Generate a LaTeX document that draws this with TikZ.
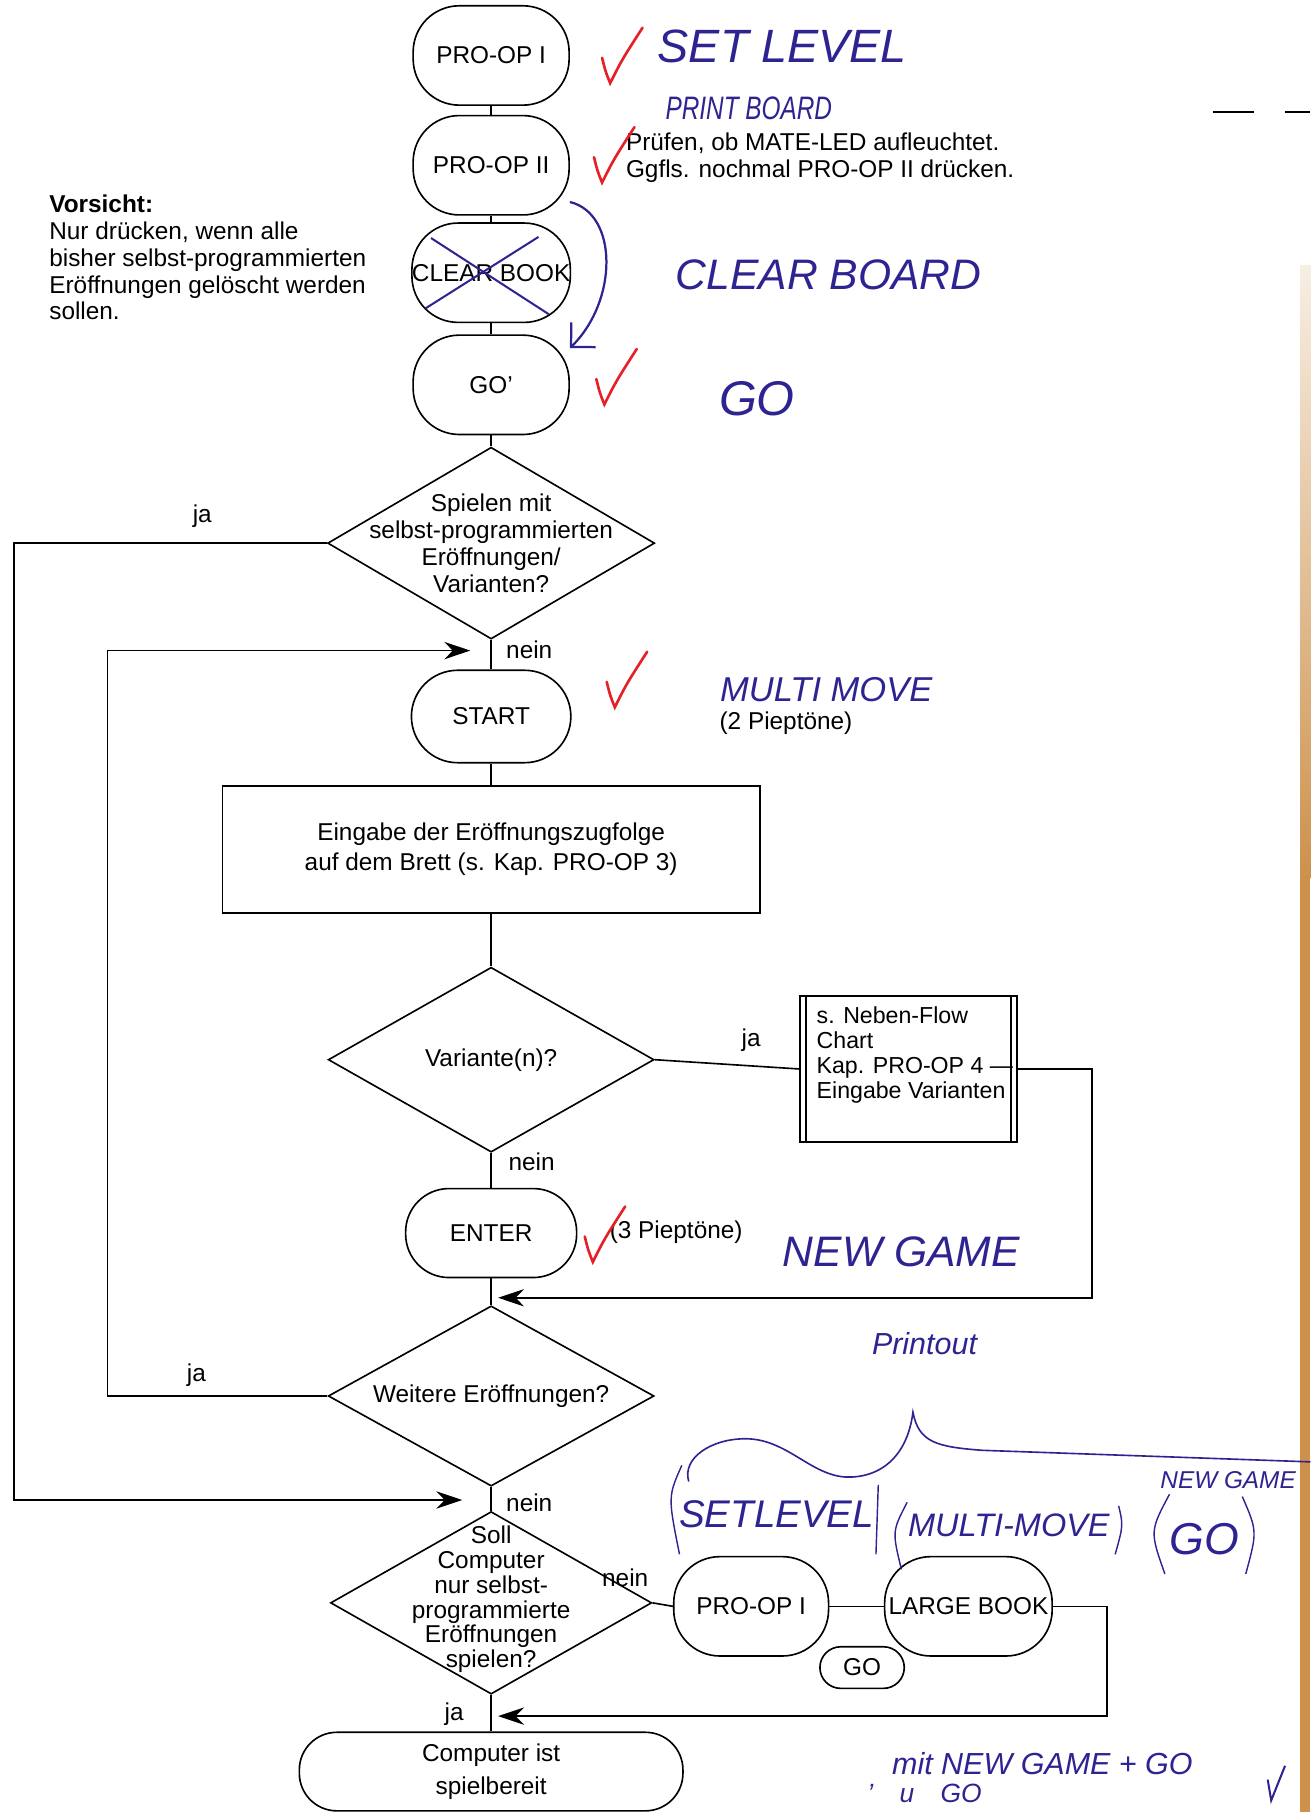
\documentclass[tikz,border=0pt]{standalone}
\usepackage{fontspec}
\setmainfont{Liberation Sans}
\newfontfamily\handfont{Liberation Sans}
\usetikzlibrary{shapes.geometric,arrows.meta}
\definecolor{ink}{RGB}{45,35,145}
\definecolor{redtick}{RGB}{228,32,40}
\definecolor{pageedge}{RGB}{205,145,75}
\newcommand{\haken}[2]{\draw [redtick, line width=1.3pt, line cap=round] (#1-7,#2-22) .. controls (#1-4,#2-10) .. (#1,#2) .. controls (#1+10,#2-20) .. (#1+28,#2-48);}
\begin{document}
\begin{tikzpicture}[x=0.02cm, y=-0.02cm, font=\fontsize{12}{14}\selectfont, line width=0.8pt,
  term/.style={draw, rectangle, rounded corners=0.8cm, minimum width=2.7cm, minimum height=1.72cm, inner sep=1pt},
  frage/.style={draw, diamond, minimum width=5.64cm, minimum height=3.2cm, inner sep=0pt},
  box/.style={draw, rectangle, inner sep=0pt},
  txt/.style={inner sep=0pt, align=center},
  hand/.style={ink, inner sep=0pt, font=\handfont\itshape\fontsize{20}{22}\selectfont},
  arr/.style={-{Stealth[length=0.45cm, width=0.3cm]}}]
\useasboundingbox (0,0) rectangle (1134,1568);

% page edge of the scan
\shade [top color=pageedge!15, bottom color=pageedge] (1125,230) rectangle (1134,760);
\fill [pageedge] (1125,760) rectangle (1134,1568);
\draw [line width=1.2pt] (1050,97)--(1085,97);
\draw [line width=1.2pt] (1112,97)--(1134,97);

% main column
\node[term] (po1) at (425,48) {PRO-OP I};
\node[term] (po2) at (425,143) {PRO-OP II};
\node[term, inner sep=0pt] (cb) at (425,236) {CLEAR BOOK};
\node[term] (go1) at (425,333) {GO’};
\node[frage, minimum width=5.66cm, minimum height=3.32cm] (f1) at (425,470) {};
\node[txt, font=\fontsize{12}{13.2}\selectfont] (f1t) at (f1) {Spielen mit\\selbst-programmierten\\Eröffnungen/\\Varianten?};
\node[term, minimum width=2.76cm, minimum height=1.6cm] (start) at (425,620) {START};
\node[box, minimum width=9.3cm, minimum height=2.2cm, align=center, font=\fontsize{12}{15}\selectfont] (eing) at (425,735) {Eingabe der Eröffnungszugfolge\\auf dem Brett (s. Kap. PRO-OP 3)};
\node[frage] (f2) at (425,917) {};
\node[txt] (f2t) at (f2) {Variante(n)?};
\node[box, minimum width=3.76cm, minimum height=2.52cm] (nb) at (786,925) {};
\node[anchor=west, align=left, inner sep=0pt, font=\fontsize{11.4}{12.4}\selectfont] (nbt) at (706,913) {s. Neben-Flow\\Chart\\Kap. PRO-OP 4 —\\Eingabe Varianten};
\draw ([xshift=0.12cm]nb.north west)--([xshift=0.12cm]nb.south west);
\draw ([xshift=-0.12cm]nb.north east)--([xshift=-0.12cm]nb.south east);
\node[term, minimum width=2.96cm, minimum height=1.54cm, rounded corners=0.75cm] (enter) at (425,1067) {ENTER};
\node[frage, minimum height=3.12cm] (f3) at (425,1208) {};
\node[txt] (f3t) at (f3) {Weitere Eröffnungen?};
\node[frage, minimum width=5.56cm, minimum height=3.16cm] (f4) at (425,1387) {};
\node[txt, font=\fontsize{12}{12.2}\selectfont] (f4t) at (425,1384) {Soll\\Computer\\nur selbst-\\programmierte\\Eröffnungen\\spielen?};
\node[term, minimum width=2.68cm] (po1b) at (650,1390) {PRO-OP I};
\node[term, minimum width=2.9cm, inner sep=0pt] (lb) at (838,1390) {LARGE BOOK};
\node[term, minimum width=1.46cm, minimum height=0.72cm, rounded corners=0.36cm] (go2) at (746,1443) {GO};
\node[term, minimum width=6.64cm, minimum height=1.36cm, rounded corners=0.65cm, align=center, font=\fontsize{12}{16}\selectfont] (ready) at (425,1533) {Computer ist\\spielbereit};

\coordinate (m1) at (425,563);
\coordinate (m2) at (425,1123);
\coordinate (m3) at (425,1298);
\coordinate (m4) at (425,1485);

\draw (po1.south)--(po2.north);
\draw (po2.south)--(cb.north);
\draw (cb.south)--(go1.north);
\draw (go1.south)--(f1.north);
\draw (f1.south)--(start.north);
\draw (start.south)--(eing.north);
\draw (eing.south)--(f2.north);
\draw (f2.east)--(nb.west);
\draw (f2.south)--(enter.north);
\draw (enter.south)--(f3.north);
\draw (f3.south)--(f4.north);
\draw (f4.east)--(po1b.west);
\draw (po1b.east)--(lb.west);
\draw (f4.south)--(ready.north);
\draw [arr, shorten >=0.5cm] (f1.west) -| (12,1298) -- (m3);
\draw [arr, shorten >=0.36cm] (f3.west) -| (93,563) -- (m1);
\draw [arr, shorten >=0.12cm] (nb.east) -| (945,1123) -- (m2);
\draw [arr, shorten >=0.12cm] (lb.east) -| (958,1485) -- (m4);

\node (ja1) at (175,447) {ja};
\node (nein1) at (458,562) {nein};
\node (ja2) at (650,900) {ja};
\node (nein2) at (460,1005) {nein};
\node (ja3) at (170,1190) {ja};
\node (nein3) at (458,1300) {nein};
\node (nein4) at (541,1365) {nein};
\node (ja4) at (393,1483) {ja};

% printed notes
\node[anchor=north west, align=left, inner sep=0pt, font=\fontsize{12}{13.2}\selectfont] (vorsicht) at (42,168) {\textbf{Vorsicht:}\\Nur drücken, wenn alle\\bisher selbst-programmierten\\Eröffnungen gelöscht werden\\sollen.};
\node[anchor=north west, align=left, inner sep=0pt, font=\fontsize{12}{13.2}\selectfont] (pruef) at (541,114) {Prüfen, ob MATE-LED aufleuchtet.\\Ggfls. nochmal PRO-OP II drücken.};
\node[anchor=west, inner sep=0pt] (piep2) at (622,626) {(2 Pieptöne)};
\node[anchor=west, inner sep=0pt] (piep3) at (527,1066) {(3 Pieptöne)};

% pen marks
\haken{528}{72}
\haken{521}{158}
\haken{523}{350}
\haken{532}{612}
\haken{513}{1092}
\draw [ink, line width=1pt] (373,206)--(475,272);
\draw [ink, line width=1pt] (466,205)--(368,267);
\draw [ink, line width=1.1pt, -{Straight Barb[length=0.3cm]}] (po2.-25) .. controls (535,185) and (535,260) .. (go1.25);
\draw [ink, line width=0.8pt] (596,1282) .. controls (590,1262) and (615,1245) .. (645,1245) .. controls (680,1245) and (700,1275) .. (730,1278) .. controls (760,1280) and (785,1262) .. (790,1222) .. controls (795,1248) and (810,1252) .. (850,1255) -- (1134,1265);
\draw [ink, line width=0.7pt] (590,1268) .. controls (578,1295) .. (588,1345);
\draw [ink, line width=0.7pt] (760,1285) -- (758,1345);
\draw [ink, line width=0.7pt] (785,1300) .. controls (772,1325) .. (780,1358);
\draw [ink, line width=0.7pt] (968,1303) .. controls (972,1320) .. (965,1345);
\draw [ink, line width=0.7pt] (1012,1293) .. controls (995,1325) .. (1008,1362);
\draw [ink, line width=0.7pt] (1075,1295) .. controls (1088,1325) .. (1078,1362);
\draw [ink, line width=1pt] (1097,1540) -- (1100,1558) -- (1112,1528);

\node[hand, font=\handfont\itshape\fontsize{23}{23}\selectfont] (h1) at (677,40) {SET LEVEL};
\node[hand, font=\handfont\itshape\fontsize{16}{16}\selectfont] (h2) at (648,94) {\scalebox{0.75}[1]{PRINT BOARD}};
\node[hand, font=\handfont\itshape\fontsize{21}{21}\selectfont] (h3) at (717,238) {CLEAR BOARD};
\node[hand, font=\handfont\itshape\fontsize{24}{24}\selectfont] (h4) at (655,345) {GO};
\node[hand, font=\handfont\itshape\fontsize{17}{17}\selectfont] (h5) at (715,597) {MULTI MOVE};
\node[hand, font=\handfont\itshape\fontsize{21}{21}\selectfont] (h6) at (780,1083) {NEW GAME};
\node[hand, font=\handfont\itshape\fontsize{15}{15}\selectfont] (h7) at (800,1163) {Printout};
\node[hand, font=\handfont\itshape\fontsize{19}{19}\selectfont] (h8) at (672,1310) {SETLEVEL};
\node[hand, font=\handfont\itshape\fontsize{16}{16}\selectfont] (h9) at (873,1320) {MULTI-MOVE};
\node[hand, anchor=east, font=\handfont\itshape\fontsize{12}{12}\selectfont] (h10) at (1122,1281) {NEW GAME};
\node[hand, font=\handfont\itshape\fontsize{22}{22}\selectfont] (h11) at (1042,1332) {GO};
\node[hand, font=\handfont\itshape\fontsize{15}{15}\selectfont] (h12) at (902,1526) {mit NEW GAME + GO};
\node[hand, font=\handfont\itshape\fontsize{13}{13}\selectfont] (h13) at (800,1552) {’\quad u\quad GO};

\end{tikzpicture}
\end{document}
